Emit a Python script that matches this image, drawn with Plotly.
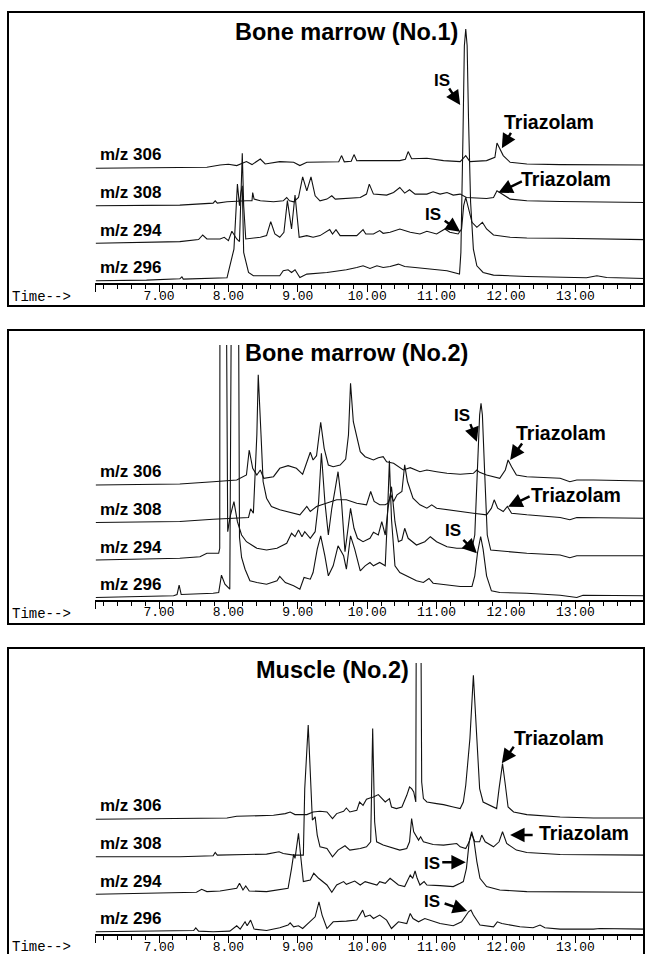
import plotly.graph_objects as go

# ---------------- data: (retention time [min], abundance above trace baseline) ----------------
# Panel 1 - Bone marrow (No.1)
bm1_306 = [(6.09,0),(7.30,0.7),(7.69,1),(7.88,3.3),(8.00,4),(8.12,2.7),(8.26,6.7),(8.34,3.7),(8.46,9.3),(8.53,4.3),
           (8.74,6.7),(8.94,6),(9.03,2.7),(9.13,6),(9.51,6),(9.59,6.5),(9.63,12.7),(9.67,6.5),(9.77,7),(9.81,13.7),(9.85,7.5),
           (9.90,7.7),(10.14,7.7),(10.47,7.7),(10.55,9),(10.59,16.7),(10.64,9.5),(10.86,10),(11.10,7.7),(11.34,6.7),
           (11.42,12.7),(11.48,6.7),(11.72,7.7),(11.84,11),(11.87,25.3),(11.91,19.3),(11.96,12.7),(12.06,6),(12.30,4.3),
           (12.78,3.7),(14.0,3.3)]
bm1_308 = [(6.09,0),(7.30,0.7),(7.78,2.7),(7.81,5),(7.84,2.7),(7.98,4),(8.26,5),(8.34,5),(8.35,13.3),(8.37,6.7),(8.46,5),
           (8.65,4),(8.79,5),(8.84,8.3),(8.88,5),(8.94,4),(9.01,8.3),(9.07,29),(9.13,15),(9.19,29),(9.25,10),(9.32,5),
           (9.42,6.7),(9.49,10),(9.54,6.7),(9.70,7.3),(9.90,8.3),(9.99,11.7),(10.03,21.7),(10.09,11.7),(10.28,10.7),
           (10.38,13.3),(10.47,18.3),(10.54,12.7),(10.61,16),(10.69,11.7),(10.86,11.7),(10.95,14),(11.05,11.7),(11.15,13.3),
           (11.24,10.7),(11.34,11.7),(11.43,8.3),(11.72,7.3),(11.82,8.3),(11.87,15),(11.94,11.7),(12.06,6.7),(12.30,5),
           (12.78,4.3),(14.0,3.3)]
bm1_294 = [(6.09,0),(7.30,1.7),(7.57,3.7),(7.63,8.3),(7.69,4.3),(7.88,4.3),(7.94,6),(8.00,2.7),(8.05,12),(8.12,4.3),
           (8.16,1.7),(8.18,37.7),(8.20,90),(8.22,37.7),(8.25,4.3),(8.46,6),(8.55,7.7),(8.61,21.7),(8.67,9.3),(8.74,6),
           (8.80,11),(8.85,42.7),(8.91,14.3),(8.96,48.3),(9.02,6),(9.13,7.7),(9.22,6),(9.32,7.7),(9.46,13.7),(9.50,9.3),
           (9.55,13.7),(9.61,7.7),(9.85,7.7),(9.94,13.7),(9.98,9.3),(10.09,9.3),(10.18,12.7),(10.23,10),(10.33,11),
           (10.47,14.3),(10.62,11),(10.76,9.3),(10.86,12),(11.00,9.3),(11.12,14.3),(11.19,11),(11.31,9.3),(11.36,14.3),
           (11.39,37.7),(11.42,46),(11.46,34.3),(11.51,21),(11.58,16),(11.66,21),(11.72,14.3),(11.82,8.3),(12.06,6),
           (12.30,5.3),(12.78,5),(14.0,3.7)]
bm1_296 = [(6.09,0),(6.82,0.7),(7.30,2),(7.33,4),(7.35,1.7),(7.78,2.3),(7.98,3),(8.01,11.7),(8.05,23.3),(8.08,31.7),
           (8.13,96.7),(8.16,75),(8.18,88.3),(8.20,95),(8.22,28.3),(8.29,8.3),(8.36,5),(8.74,5),(8.79,10),(8.86,11),
           (8.91,8.3),(8.96,11),(9.03,3.3),(9.13,6.7),(9.42,8.3),(9.70,11),(9.85,13.3),(9.94,15),(10.04,12.3),(10.14,15),
           (10.23,13.3),(10.33,14.3),(10.45,16.7),(10.54,14.3),(10.69,13.3),(10.86,12.3),(11.02,11),(11.15,10),(11.33,6.7),
           (11.35,28.3),(11.38,145),(11.40,235),(11.42,251.7),(11.44,235),(11.46,161.7),(11.49,78.3),(11.53,31.7),
           (11.58,15),(11.67,8.3),(11.82,5.7),(12.30,4.3),(12.78,3.3),(13.16,3),(13.31,5),(13.45,3.3),(14.0,2.3)]

# Panel 2 - Bone marrow (No.2)   (values of 400 are off-scale peaks, clipped at the top)
bm2_306 = [(6.09,0),(7.30,1),(7.78,3.3),(8.12,5),(8.26,10),(8.30,35),(8.35,16.7),(8.41,10),(8.46,15),(8.51,6.7),
           (8.65,8.3),(8.74,16.7),(8.86,19.3),(8.98,16.7),(9.07,10.7),(9.14,25),(9.18,32.7),(9.22,25),(9.27,29.3),
           (9.33,62.7),(9.38,36.7),(9.44,20),(9.51,18.3),(9.61,20),(9.69,26),(9.73,50),(9.76,101.7),(9.80,63.3),
           (9.84,50),(9.90,33.3),(9.97,28.3),(10.09,25),(10.16,27.3),(10.23,28.3),(10.28,23.3),(10.38,21.7),(10.52,15),
           (10.62,17.3),(10.76,13.3),(10.86,15),(11.00,13.3),(11.15,11.7),(11.34,10.7),(11.53,11.7),(11.58,15),
           (11.62,12.7),(11.72,10),(11.91,6.7),(11.99,15),(12.03,25),(12.08,18.3),(12.15,10),(12.30,8.3),(12.78,6.7),
           (12.92,3.3),(13.02,5),(13.26,5),(14.0,4)]
bm2_308 = [(6.09,0),(7.30,1),(7.78,3.3),(8.12,4.3),(8.29,5),(8.32,13.7),(8.36,9.3),(8.41,87.7),(8.43,147.7),(8.47,87.7),
           (8.50,41),(8.55,24.3),(8.62,16),(8.74,12.7),(8.94,9.3),(9.03,7.7),(9.13,16),(9.18,11),(9.27,16),(9.42,19.3),
           (9.56,22.7),(9.70,22.7),(9.85,19.3),(9.99,17.7),(10.05,31),(10.10,21),(10.18,17.7),(10.26,17.7),(10.30,19.3),
           (10.34,27.7),(10.38,21),(10.43,27.7),(10.50,31),(10.54,57.7),(10.58,41),(10.66,24.3),(10.76,17.7),(10.86,14.3),
           (10.93,17.7),(11.00,14.3),(11.15,12.7),(11.34,11),(11.53,9.3),(11.72,7.7),(11.79,14.3),(11.83,22.7),
           (11.88,14.3),(11.96,11),(12.02,16),(12.08,9.3),(12.30,7.7),(12.78,5),(12.92,2.7),(13.02,5),(14.0,4.3)]
bm2_294 = [(6.09,0),(7.30,1.7),(7.59,3.3),(7.69,6.7),(7.86,6.7),(7.875,11.7),(7.88,400),(7.96,400),(7.99,28.3),(8.03,45),
           (8.08,58.3),(8.13,38.3),(8.19,25),(8.26,18.3),(8.41,11.7),(8.55,10),(8.70,11.7),(8.84,16.7),(8.91,26.7),
           (8.96,23.3),(9.01,30),(9.06,23.3),(9.10,28.3),(9.18,21.7),(9.25,28.3),(9.30,58.3),(9.34,106.7),(9.39,58.3),
           (9.44,25),(9.49,51.7),(9.54,71.7),(9.58,88.3),(9.63,58.3),(9.68,8.3),(9.73,35),(9.76,51.7),(9.81,31.7),
           (9.86,21.7),(9.94,18.3),(10.04,21.7),(10.09,27.7),(10.16,25),(10.21,38.3),(10.26,25),(10.30,51.7),(10.35,73.3),
           (10.40,38.3),(10.45,18.3),(10.50,20),(10.54,31.7),(10.59,21.7),(10.71,15),(10.83,18.3),(10.91,23.3),(11.00,18.3),
           (11.15,13.3),(11.29,11.7),(11.51,11.7),(11.55,25),(11.59,91.7),(11.62,145),(11.64,156.7),(11.66,145),
           (11.69,91.7),(11.73,25),(11.78,10),(11.91,9),(12.06,8.3),(12.30,6.7),(12.78,5),(12.92,2.3),(13.02,4.3),(14.0,4.3)]
bm2_296 = [(6.09,0),(7.21,1.7),(7.26,3),(7.29,12.3),(7.32,3),(7.50,3.3),(7.78,4.3),(7.86,5),(7.90,22.3),(7.95,13.3),
           (8.02,8.3),(8.05,400),(8.14,400),(8.16,60),(8.19,40),(8.24,28.3),(8.31,16.7),(8.41,15),(8.55,13.3),(8.70,16.7),
           (8.74,21),(8.82,15),(8.94,11.7),(9.03,8.3),(9.09,20),(9.18,18.3),(9.22,25),(9.28,48.3),(9.33,61.7),(9.39,41.7),
           (9.44,21.7),(9.51,31.7),(9.58,51.7),(9.66,41.7),(9.70,28.3),(9.76,61.7),(9.82,48.3),(9.90,26.7),(9.97,31.7),
           (10.04,35),(10.09,31.7),(10.18,35),(10.26,31.7),(10.29,78.3),(10.32,136.7),(10.35,78.3),(10.40,31.7),(10.47,25),
           (10.57,21.7),(10.71,16.7),(10.81,15),(10.89,19),(10.95,14.3),(11.15,12.3),(11.34,11),(11.51,11),(11.55,21.7),
           (11.59,45),(11.635,61),(11.67,48.3),(11.72,21.7),(11.79,6.7),(11.91,5),(12.30,4.3),(12.78,2.3),(13.02,0),
           (13.11,2.3),(14.0,1.7)]

# Panel 3 - Muscle (No.2)
mu_306 = [(6.09,0),(7.30,0.7),(7.98,1.3),(8.12,3),(8.36,3.3),(8.65,4),(8.82,5.7),(8.89,7.3),(8.96,4.7),(9.13,4.7),
          (9.22,7.3),(9.32,8),(9.42,7.3),(9.50,0.7),(9.56,5.7),(9.66,8),(9.70,11.3),(9.75,7.3),(9.85,9),(9.89,17.3),
          (9.94,14),(9.99,20),(10.04,21.3),(10.09,22.3),(10.16,24.7),(10.21,20.7),(10.26,17.3),(10.32,20.7),(10.35,12.3),
          (10.42,10.7),(10.50,12.3),(10.57,24),(10.61,32.3),(10.64,30.7),(10.67,27.3),(10.70,17.3),(10.715,400),
          (10.76,400),(10.785,37.3),(10.81,20.7),(10.86,17.3),(11.00,15.7),(11.10,14.7),(11.24,12.3),(11.34,10.7),
          (11.385,17.3),(11.42,34),(11.48,80.7),(11.53,144),(11.58,80.7),(11.62,30.7),(11.67,17.3),(11.82,12.3),
          (11.865,10.7),(11.90,30.7),(11.95,55.7),(11.985,37.3),(12.03,12.3),(12.11,7.3),(12.30,4.7),(12.78,2.3),
          (13.26,1.3),(14.0,1.3)]
mu_308 = [(6.09,0),(7.30,0),(7.78,1),(7.81,4.3),(7.84,1.7),(8.07,1.7),(8.26,2.3),(8.55,2.7),(8.73,5),(8.79,3.3),(8.94,1.7),
          (9.08,1.7),(9.10,68),(9.15,131.7),(9.19,68),(9.21,36.7),(9.25,40),(9.28,21.7),(9.32,10),(9.42,8.3),(9.50,0),
          (9.58,6.7),(9.68,11),(9.75,6.7),(9.90,8.3),(9.99,10),(10.05,15),(10.079,128.3),(10.107,35),(10.136,15),
          (10.23,11.7),(10.38,8.3),(10.47,6.7),(10.57,8.3),(10.61,15),(10.64,38.3),(10.67,25),(10.74,16.7),(10.77,20),
          (10.81,15),(10.95,12.3),(11.10,11.7),(11.29,13.3),(11.34,10),(11.42,8.3),(11.47,15),(11.505,23.3),(11.55,15),
          (11.62,15),(11.65,21.7),(11.70,15),(11.82,10),(11.90,15),(11.95,25),(12.01,13.3),(12.15,6.7),(12.30,4.3),
          (12.78,2.3),(14.0,1.7)]
mu_294 = [(6.09,0),(7.30,2),(7.54,2),(7.615,5),(7.69,2.7),(7.88,3.3),(8.12,6),(8.16,11),(8.21,4.3),(8.25,8.3),(8.30,3.3),
          (8.55,2.7),(8.74,4.3),(8.86,6),(8.91,26),(8.94,40),(8.96,36),(9.01,61),(9.04,39.3),(9.08,12.7),(9.18,14.3),
          (9.23,21),(9.30,16),(9.42,9.3),(9.49,2),(9.56,9.3),(9.66,12.7),(9.70,10),(9.82,13.3),(9.90,9.3),(9.97,12.7),
          (10.04,11),(10.14,9.3),(10.18,12.7),(10.26,11),(10.33,16),(10.45,9.3),(10.54,7.7),(10.62,19.3),(10.655,16),
          (10.69,23.3),(10.72,16),(10.76,9.3),(10.82,12.7),(10.86,9.3),(11.05,8.7),(11.24,7.7),(11.34,11),(11.385,12.7),
          (11.43,26),(11.47,52.7),(11.505,62.7),(11.54,52.7),(11.58,32.7),(11.625,16),(11.72,7.7),(11.91,4.3),
          (12.30,2.7),(14.0,2)]
mu_296 = [(6.09,0),(7.30,0.7),(7.50,1.3),(7.53,4),(7.57,0.7),(7.78,0),(8.02,0.7),(8.12,6),(8.17,2.7),(8.24,10),(8.27,6),
          (8.32,11.7),(8.37,2.7),(8.55,1.3),(8.74,4),(8.86,6.7),(8.89,9),(8.94,5),(9.01,6),(9.07,3.3),(9.18,10),(9.25,15),
          (9.305,30),(9.35,16.7),(9.42,3.3),(9.51,10),(9.70,10.7),(9.85,11.7),(9.935,21.7),(9.97,15),(10.04,16.7),
          (10.09,13.3),(10.18,16.7),(10.28,11.7),(10.35,3.3),(10.45,10),(10.57,8.3),(10.62,18.3),(10.66,13.3),(10.74,10),
          (10.83,13.3),(10.905,11.7),(11.05,8.3),(11.24,6),(11.36,10),(11.46,20),(11.495,21.7),(11.53,16.7),(11.625,6.7),
          (11.82,5),(11.875,10),(11.94,8.3),(12.06,6.7),(12.20,5),(12.39,4),(12.49,6.7),(12.56,4),(12.78,2.7),(13.26,2.7),
          (13.35,3.3),(14.0,2.7)]

ions = ["m/z 306", "m/z 308", "m/z 294", "m/z 296"]
titles = ["Bone marrow (No.1)", "Bone marrow (No.2)", "Muscle (No.2)"]
tick_vals = [7, 8, 9, 10, 11, 12, 13]
tick_text = ["7.00", "8.00", "9.00", "10.00", "11.00", "12.00", "13.00"]
panels_data = [[bm1_306, bm1_308, bm1_294, bm1_296],
               [bm2_306, bm2_308, bm2_294, bm2_296],
               [mu_306, mu_308, mu_294, mu_296]]

# annotations: (label, tip_time, tip_level, text_time, text_level, arrow dx, arrow dy)
ann1 = [("IS", 11.34, 178.3, 11.08, 202.8, -12, -18),
        ("Triazolam", 11.94, 135.0, 12.62, 160.8, 10, -17),
        ("Triazolam", 11.89, 90.6, 12.87, 104.3, 25, -12),
        ("IS", 11.34, 51.6, 10.95, 68.3, -17, -12)]
ann2 = [("IS", 11.58, 158.3, 11.37, 185.0, -7, -19),
        ("Triazolam", 12.06, 140.0, 12.79, 167.0, 13, -18),
        ("Triazolam", 12.03, 93.3, 13.01, 105.0, 23, -11),
        ("IS", 11.58, 46.7, 11.24, 70.0, -15, -15)]
ann3 = [("Triazolam", 11.94, 171.0, 12.76, 196.8, 13, -18),
        ("Triazolam", 12.06, 99.3, 13.12, 101.3, 24, 0),
        ("IS", 11.42, 72.0, 10.94, 71.3, -25, 0),
        ("IS", 11.44, 23.3, 10.93, 32.6, -24, -8)]
annots = [ann1, ann2, ann3]

# ---------------- layout geometry (pixels of the 645 x 954 page) ----------------
W, H = 645, 954
channel_offset = [115, 77.5, 40, 2.5]       # stacking of the four ion traces
label_level = [128.5, 90.7, 52.5, 16.0]
axis_px = [283.3, 600.0, 934.3]           # y of the time axis line
top_px = [25.0, 345.0, 663.0]             # top of the plotting area
frame_px = [(12, 306), (330, 624), (648, 970)]
title_px = [(346, 32), (356, 353), (332, 670)]
time_px = [297, 614, 947]
x_left_px, px_per_min, x7_px = 95, 69.4, 159
t_min = 7 - (x7_px - x_left_px) / px_per_min
t_max = 7 + (W - x7_px) / px_per_min

def py(y):
    return 1 - y / H

fig = go.Figure()
layout = dict(width=W, height=H, margin=dict(l=0, r=0, t=0, b=0), autosize=False,
              paper_bgcolor="white", plot_bgcolor="rgba(0,0,0,0)", showlegend=False)
shapes, annotations = [], []
mono = "Liberation Mono, Courier New, monospace"
sans = "Liberation Sans, Arial, Helvetica, sans-serif"

for p in range(3):
    xa = "x" if p == 0 else f"x{p+1}"
    ya = "y" if p == 0 else f"y{p+1}"
    xk = "xaxis" if p == 0 else f"xaxis{p+1}"
    yk = "yaxis" if p == 0 else f"yaxis{p+1}"
    for c in range(4):
        pts = panels_data[p][c]
        fig.add_trace(go.Scatter(x=[q[0] for q in pts], y=[channel_offset[c] + q[1] for q in pts],
                                 mode="lines", line=dict(color="#111111", width=1.1),
                                 xaxis=xa, yaxis=ya, hoverinfo="skip"))
    yr = axis_px[p] - top_px[p]
    layout[xk] = dict(domain=[x_left_px / W, 1], range=[t_min, t_max], anchor=ya,
                      showline=True, linecolor="black", linewidth=1.5, showgrid=False, zeroline=False,
                      ticks="outside", ticklen=7, tickwidth=1, tickcolor="black",
                      tickmode="array", tickvals=[t_min + 0.005] + tick_vals, ticktext=[""] + tick_text,
                      ticklabelstandoff=-8,
                      tickfont=dict(family=mono, size=13, color="black"),
                      minor=dict(tickmode="linear", tick0=7, dtick=0.2, ticks="outside", ticklen=4,
                                 tickwidth=1, tickcolor="black", showgrid=False))
    layout[yk] = dict(domain=[py(axis_px[p]), py(top_px[p])], range=[0, yr], visible=False,
                      anchor=xa, showgrid=False, zeroline=False)
    # frame
    shapes.append(dict(type="rect", xref="paper", yref="paper", x0=8 / W, x1=644 / W,
                       y0=py(frame_px[p][1]), y1=py(frame_px[p][0]),
                       line=dict(color="black", width=2), fillcolor="rgba(0,0,0,0)", layer="above"))
    # title
    annotations.append(dict(xref="paper", yref="paper", x=title_px[p][0] / W, y=py(title_px[p][1]),
                            text="<b>" + titles[p] + "</b>", showarrow=False, xanchor="center", yanchor="middle",
                            font=dict(family=sans, size=23.5, color="black")))
    # Time-->
    annotations.append(dict(xref="paper", yref="paper", x=10 / W, y=py(time_px[p]), text="Time-->",
                            showarrow=False, xanchor="left", yanchor="middle",
                            font=dict(family=mono, size=14, color="black")))
    # ion labels
    for c in range(4):
        annotations.append(dict(xref="paper", yref=ya, x=98 / W, y=label_level[c], text="<b>" + ions[c] + "</b>",
                                showarrow=False, xanchor="left", yanchor="middle",
                                font=dict(family=sans, size=17, color="black")))
    # peak labels and arrows
    for (lab, tx, ty, lx, ly, dx, dy) in annots[p]:
        annotations.append(dict(xref=xa, yref=ya, x=lx, y=ly, text="<b>" + lab + "</b>", showarrow=False,
                                xanchor="center", yanchor="middle",
                                font=dict(family=sans, size=19.5 if lab != "IS" else 17, color="black")))
        annotations.append(dict(xref=xa, yref=ya, x=tx, y=ty, text="", showarrow=True, ax=dx, ay=dy,
                                arrowhead=2, arrowsize=1.2, arrowwidth=2.4, arrowcolor="black"))

layout["shapes"] = shapes
layout["annotations"] = annotations
fig.update_layout(**layout)
fig.write_html("out.html", config={"displayModeBar": False},
               post_script="document.body.style.margin='0px';document.body.style.padding='0px';")
